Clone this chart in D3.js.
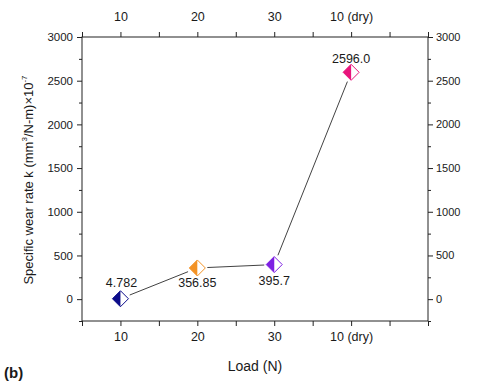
<!DOCTYPE html>
<html>
<head>
<meta charset="utf-8">
<script src="https://cdn.jsdelivr.net/npm/d3@7"></script>
<style>
  body { margin: 0; background: #fff; }
  text { font-family: Arial, "Liberation Sans", sans-serif; fill: #1a1a1a; }
</style>
</head>
<body>
<div id="chart"></div>
<script>
// data
var loads = ["10", "20", "30", "10 (dry)"];
var wearRate = [4.782, 356.85, 395.7, 2596.0];
var valueLabels = ["4.782", "356.85", "395.7", "2596.0"];
var markerColors = ["#0c0c8a", "#f39224", "#7d1fe3", "#e8157c"];
var yTicks = [0, 500, 1000, 1500, 2000, 2500, 3000];

var svgWidth = 480;
var svgHeight = 384;
var margin = { top: 37, right: 52, bottom: 63, left: 82 };
var width = svgWidth - margin.left - margin.right;
var height = svgHeight - margin.top - margin.bottom;

var svg = d3.select("#chart")
  .append("svg")
  .attr("width", svgWidth)
  .attr("height", svgHeight);

var chartGroup = svg.append("g")
  .attr("transform", `translate(${margin.left}, ${margin.top})`);

// categories sit on 1..4, frame runs 0.5..5
var xScale = d3.scaleLinear().domain([0.5, 5]).range([0, width]);
var yScale = d3.scaleLinear().domain([-250, 3000]).range([height, 0]);

var xMajor = loads.map((d, i) => i + 1);
var xMinor = [0.5, 1.5, 2.5, 3.5, 4.5, 5];
var yMinor = d3.range(-250, 3001, 250).filter(v => v % 500 !== 0);

function styleAxis(g) {
  g.selectAll(".domain").remove();
  g.selectAll("line").attr("stroke", "#222");
  g.selectAll("text").attr("font-size", "11.5px");
}

// major axes
var bottomAxis = d3.axisBottom(xScale).tickValues(xMajor)
  .tickFormat(d => loads[d - 1]).tickSize(5).tickPadding(6);
var topAxis = d3.axisTop(xScale).tickValues(xMajor)
  .tickFormat(d => loads[d - 1]).tickSize(5).tickPadding(11);
var leftAxis = d3.axisLeft(yScale).tickValues(yTicks)
  .tickFormat(d3.format("d")).tickSize(5).tickPadding(4);
var rightAxis = d3.axisRight(yScale).tickValues(yTicks)
  .tickFormat(d3.format("d")).tickSize(5).tickPadding(3);

chartGroup.append("g").attr("transform", `translate(0, ${height})`)
  .call(bottomAxis).call(styleAxis)
  .selectAll("text").attr("font-size", "12.5px");
chartGroup.append("g").call(topAxis).call(styleAxis)
  .selectAll("text").attr("font-size", "12.5px");
chartGroup.append("g").call(leftAxis).call(styleAxis);
chartGroup.append("g").attr("transform", `translate(${width}, 0)`)
  .call(rightAxis).call(styleAxis)
  .selectAll("text").attr("font-size", "11px");

// minor ticks
chartGroup.append("g").attr("transform", `translate(0, ${height})`)
  .call(d3.axisBottom(xScale).tickValues(xMinor).tickSize(5).tickFormat(""))
  .call(styleAxis);
chartGroup.append("g")
  .call(d3.axisTop(xScale).tickValues(xMinor).tickSize(5).tickFormat(""))
  .call(styleAxis);
chartGroup.append("g")
  .call(d3.axisLeft(yScale).tickValues(yMinor).tickSize(3).tickFormat(""))
  .call(styleAxis);
chartGroup.append("g").attr("transform", `translate(${width}, 0)`)
  .call(d3.axisRight(yScale).tickValues(yMinor).tickSize(3).tickFormat(""))
  .call(styleAxis);

// frame
chartGroup.append("rect")
  .attr("width", width).attr("height", height)
  .attr("fill", "none").attr("stroke", "#222").attr("stroke-width", 1);

// connecting line with a small gap at each symbol
var pts = wearRate.map((v, i) => [xScale(i + 1), yScale(v)]);
var gap = 10;
for (var i = 0; i < pts.length - 1; i++) {
  var a = pts[i], b = pts[i + 1];
  var dx = b[0] - a[0], dy = b[1] - a[1];
  var len = Math.sqrt(dx * dx + dy * dy);
  var ux = dx / len, uy = dy / len;
  chartGroup.append("line")
    .attr("x1", a[0] + ux * gap).attr("y1", a[1] + uy * gap)
    .attr("x2", b[0] - ux * gap).attr("y2", b[1] - uy * gap)
    .attr("stroke", "#111").attr("stroke-width", 0.8);
}

// half-filled diamonds
var r = 8;
var markers = chartGroup.selectAll(".marker")
  .data(wearRate)
  .enter()
  .append("g")
  .attr("class", "marker")
  .attr("transform", (d, i) => `translate(${xScale(i + 1)}, ${yScale(d)})`);

markers.append("path")
  .attr("d", `M0,${-r}L${r},0L0,${r}Z`)
  .attr("fill", "#fff");
markers.append("path")
  .attr("d", `M0,${-r}L${-r},0L0,${r}Z`)
  .attr("fill", (d, i) => markerColors[i]);
markers.append("path")
  .attr("d", `M0,${-r}L${r},0L0,${r}L${-r},0Z`)
  .attr("fill", "none")
  .attr("stroke", (d, i) => markerColors[i])
  .attr("stroke-width", 1);

// value labels
var labelDy = [-12, 19, 20, -9];
chartGroup.selectAll(".vlabel")
  .data(wearRate)
  .enter()
  .append("text")
  .attr("class", "vlabel")
  .attr("x", (d, i) => xScale(i + 1) + (i === 0 ? 1 : 0))
  .attr("y", (d, i) => yScale(d) + labelDy[i])
  .attr("text-anchor", "middle")
  .attr("font-size", "12.5px")
  .text((d, i) => valueLabels[i]);

// axis titles
svg.append("text")
  .attr("x", margin.left + width / 2)
  .attr("y", 371)
  .attr("text-anchor", "middle")
  .attr("font-size", "14px")
  .text("Load (N)");

var yTitle = svg.append("text")
  .attr("transform", `translate(33, 180) rotate(-90)`)
  .attr("text-anchor", "middle")
  .attr("font-size", "13px");
yTitle.append("tspan").text("Specific wear rate k (mm");
yTitle.append("tspan").attr("font-size", "8px").attr("dy", "-6").text("3");
yTitle.append("tspan").attr("dy", "6").text("/N-m)\u00d710");
yTitle.append("tspan").attr("font-size", "8px").attr("dy", "-6").text("-7");

svg.append("text")
  .attr("x", 4)
  .attr("y", 378)
  .attr("font-size", "15px")
  .attr("font-weight", "bold")
  .text("(b)");
</script>
</body>
</html>
